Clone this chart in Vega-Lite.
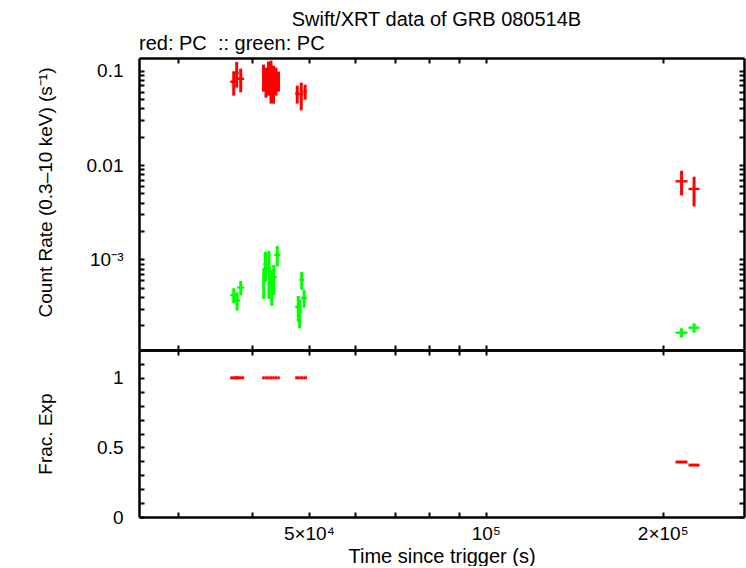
{
  "$schema": "https://vega.github.io/schema/vega-lite/v6.json",
  "autosize": {"type": "pad"},
  "padding": {"left": 35, "top": 10, "right": 3, "bottom": 0},
  "background": "white",
  "config": {
    "font": "Liberation Sans",
    "view": {"stroke": null},
    "axis": {
      "grid": false,
      "ticks": true,
      "domainColor": "black",
      "domainWidth": 2.5,
      "tickColor": "black",
      "tickWidth": 2,
      "tickSize": -5,
      "labelFont": "Liberation Sans",
      "labelFontSize": 19,
      "labelColor": "black",
      "labelOverlap": false,
      "labelBound": false,
      "labelFlush": false,
      "titleFont": "Liberation Sans",
      "titleFontSize": 19,
      "titleFontWeight": "normal",
      "titleColor": "black"
    }
  },
  "title": {
    "text": "Swift/XRT data of GRB 080514B",
    "anchor": "middle",
    "frame": "bounds",
    "dx": 46,
    "fontSize": 20,
    "fontWeight": "normal",
    "font": "Liberation Sans",
    "color": "black",
    "offset": 4
  },
  "datasets": {
    "lc": [
      {"series": "red", "t": 37250, "terr": 510, "rate": 0.0763, "rerr": 0.0220, "fexp": 1},
      {"series": "red", "t": 37685, "terr": 295, "rate": 0.0948, "rerr": 0.0288, "fexp": 1},
      {"series": "red", "t": 38283, "terr": 524, "rate": 0.0820, "rerr": 0.0231, "fexp": 1},
      {"series": "red", "t": 41854, "terr": 205, "rate": 0.0879, "rerr": 0.0280, "fexp": 1},
      {"series": "red", "t": 42267, "terr": 208, "rate": 0.0797, "rerr": 0.0280, "fexp": 1},
      {"series": "red", "t": 42683, "terr": 209, "rate": 0.0895, "rerr": 0.0352, "fexp": 1},
      {"series": "red", "t": 43103, "terr": 212, "rate": 0.0862, "rerr": 0.0415, "fexp": 1},
      {"series": "red", "t": 43528, "terr": 214, "rate": 0.0789, "rerr": 0.0342, "fexp": 1},
      {"series": "red", "t": 43956, "terr": 215, "rate": 0.0810, "rerr": 0.0267, "fexp": 1},
      {"series": "red", "t": 44389, "terr": 218, "rate": 0.0788, "rerr": 0.0189, "fexp": 1},
      {"series": "red", "t": 47774, "terr": 375, "rate": 0.0570, "rerr": 0.0123, "fexp": 1},
      {"series": "red", "t": 48530, "terr": 381, "rate": 0.0563, "rerr": 0.0183, "fexp": 1},
      {"series": "red", "t": 49268, "terr": 358, "rate": 0.0601, "rerr": 0.0109, "fexp": 1},
      {"series": "red", "t": 215345, "terr": 5053, "rate": 0.00673, "rerr": 0.00197, "fexp": 0.395},
      {"series": "red", "t": 226143, "terr": 4874, "rate": 0.00558, "rerr": 0.00194, "fexp": 0.373},
      {"series": "green", "t": 37250, "terr": 510, "rate": 0.000420, "rerr": 0.000076},
      {"series": "green", "t": 37741, "terr": 466, "rate": 0.000368, "rerr": 0.000081},
      {"series": "green", "t": 38283, "terr": 524, "rate": 0.000504, "rerr": 0.000089},
      {"series": "green", "t": 41896, "terr": 247, "rate": 0.000598, "rerr": 0.000216},
      {"series": "green", "t": 42186, "terr": 373, "rate": 0.000891, "rerr": 0.000313},
      {"series": "green", "t": 42767, "terr": 377, "rate": 0.000808, "rerr": 0.000426},
      {"series": "green", "t": 43231, "terr": 425, "rate": 0.000549, "rerr": 0.000227},
      {"series": "green", "t": 43570, "terr": 545, "rate": 0.000649, "rerr": 0.000228},
      {"series": "green", "t": 44174, "terr": 519, "rate": 0.001117, "rerr": 0.000276},
      {"series": "green", "t": 47963, "terr": 564, "rate": 0.000315, "rerr": 0.000096},
      {"series": "green", "t": 48217, "terr": 500, "rate": 0.000280, "rerr": 0.000093},
      {"series": "green", "t": 48625, "terr": 476, "rate": 0.000607, "rerr": 0.000131},
      {"series": "green", "t": 49076, "terr": 550, "rate": 0.000392, "rerr": 0.000084},
      {"series": "green", "t": 215345, "terr": 5053, "rate": 0.0001677, "rerr": 0.0000190},
      {"series": "green", "t": 226143, "terr": 4874, "rate": 0.0001894, "rerr": 0.0000217}
    ]
  },
  "spacing": 0,
  "bounds": "flush",
  "vconcat": [
    {
      "width": 605,
      "height": 292,
      "title": {
        "text": "red: PC \u00a0:: green: PC",
        "anchor": "start",
        "frame": "group",
        "fontSize": 20,
        "fontWeight": "normal",
        "font": "Liberation Sans",
        "color": "black",
        "offset": 3
      },
      "resolve": {"axis": {"x": "independent", "y": "independent"}},
      "layer": [
        {
          "data": {"name": "lc"},
          "transform": [{"filter": "datum.series === 'red'"}],
          "mark": {"type": "errorbar", "color": "#ff0000", "thickness": 3},
          "encoding": {
            "x": {
              "field": "t", "type": "quantitative",
              "scale": {"type": "log", "domain": [25700, 275000], "nice": false},
              "axis": {
                "orient": "bottom", "title": null, "labels": false,
                "values": [30000, 40000, 50000, 60000, 70000, 80000, 90000, 100000, 200000],
                "encode": {"ticks": {"update": {"y2": {"signal": "abs(log(datum.value)/LN10 - round(log(datum.value)/LN10)) < 1e-6 ? -9 : -5"}}}}
              }
            },
            "y": {
              "field": "rate", "type": "quantitative",
              "scale": {"type": "log", "domain": [0.00011, 0.136], "nice": false},
              "axis": {
                "orient": "left",
                "title": "Count Rate (0.3–10 keV) (s⁻¹)",
                "titleX": -88,
                "titleY": 134,
                "titleBaseline": "alphabetic",
                "labelPadding": 21,
                "values": [0.0002, 0.0003, 0.0004, 0.0005, 0.0006, 0.0007, 0.0008, 0.0009, 0.001, 0.002, 0.003, 0.004, 0.005, 0.006, 0.007, 0.008, 0.009, 0.01, 0.02, 0.03, 0.04, 0.05, 0.06, 0.07, 0.08, 0.09, 0.1],
                "labelExpr": "datum.value == 0.1 ? '0.1' : datum.value == 0.01 ? '0.01' : datum.value == 0.001 ? '10⁻³' : ''",
                "encode": {"ticks": {"update": {"x2": {"signal": "abs(log(datum.value)/LN10 - round(log(datum.value)/LN10)) < 1e-6 ? 9 : 5"}}}}
              }
            },
            "yError": {"field": "rerr"}
          }
        },
        {
          "data": {"name": "lc"},
          "transform": [{"filter": "datum.series === 'red'"}],
          "mark": {"type": "errorbar", "color": "#ff0000", "thickness": 2.4},
          "encoding": {
            "x": {
              "field": "t", "type": "quantitative",
              "scale": {"type": "log", "domain": [25700, 275000], "nice": false},
              "axis": {
                "orient": "top", "title": null, "labels": false,
                "values": [30000, 40000, 50000, 60000, 70000, 80000, 90000, 100000, 200000],
                "encode": {"ticks": {"update": {"y2": {"signal": "abs(log(datum.value)/LN10 - round(log(datum.value)/LN10)) < 1e-6 ? 9 : 5"}}}}
              }
            },
            "xError": {"field": "terr"},
            "y": {
              "field": "rate", "type": "quantitative",
              "scale": {"type": "log", "domain": [0.00011, 0.136], "nice": false},
              "axis": {
                "orient": "right", "title": null, "labels": false,
                "values": [0.0002, 0.0003, 0.0004, 0.0005, 0.0006, 0.0007, 0.0008, 0.0009, 0.001, 0.002, 0.003, 0.004, 0.005, 0.006, 0.007, 0.008, 0.009, 0.01, 0.02, 0.03, 0.04, 0.05, 0.06, 0.07, 0.08, 0.09, 0.1],
                "encode": {"ticks": {"update": {"x2": {"signal": "abs(log(datum.value)/LN10 - round(log(datum.value)/LN10)) < 1e-6 ? -9 : -5"}}}}
              }
            }
          }
        },
        {
          "data": {"name": "lc"},
          "transform": [{"filter": "datum.series === 'green'"}],
          "mark": {"type": "errorbar", "color": "#00ff00", "thickness": 3},
          "encoding": {
            "x": {"field": "t", "type": "quantitative", "scale": {"type": "log", "domain": [25700, 275000], "nice": false}, "axis": null},
            "y": {"field": "rate", "type": "quantitative", "scale": {"type": "log", "domain": [0.00011, 0.136], "nice": false}, "axis": null},
            "yError": {"field": "rerr"}
          }
        },
        {
          "data": {"name": "lc"},
          "transform": [{"filter": "datum.series === 'green'"}],
          "mark": {"type": "errorbar", "color": "#00ff00", "thickness": 2.4},
          "encoding": {
            "x": {"field": "t", "type": "quantitative", "scale": {"type": "log", "domain": [25700, 275000], "nice": false}, "axis": null},
            "xError": {"field": "terr"},
            "y": {"field": "rate", "type": "quantitative", "scale": {"type": "log", "domain": [0.00011, 0.136], "nice": false}, "axis": null}
          }
        }
      ]
    },
    {
      "width": 605,
      "height": 167,
      "resolve": {"axis": {"x": "independent", "y": "independent"}},
      "layer": [
        {
          "data": {"name": "lc"},
          "transform": [{"filter": "datum.series === 'red' && datum.fexp == 1"}],
          "mark": {"type": "errorbar", "color": "#ff0000", "thickness": 3},
          "encoding": {
            "x": {
              "field": "t", "type": "quantitative",
              "scale": {"type": "log", "domain": [25700, 275000], "nice": false},
              "axis": {
                "orient": "bottom",
                "title": "Time since trigger (s)",
                "titleFontSize": 20,
                "titleY": 45,
                "titleBaseline": "alphabetic",
                "labelPadding": 12,
                "values": [30000, 40000, 50000, 60000, 70000, 80000, 90000, 100000, 200000],
                "labelExpr": "datum.value == 50000 ? '5×10⁴' : datum.value == 100000 ? '10⁵' : datum.value == 200000 ? '2×10⁵' : ''",
                "encode": {"ticks": {"update": {"y2": {"signal": "abs(log(datum.value)/LN10 - round(log(datum.value)/LN10)) < 1e-6 ? -9 : -5"}}}}
              }
            },
            "xError": {"field": "terr"},
            "y": {
              "field": "fexp", "type": "quantitative",
              "scale": {"domain": [0, 1.2], "nice": false, "zero": false},
              "axis": {
                "orient": "left",
                "title": "Frac. Exp",
                "titleX": -88,
                "titleBaseline": "alphabetic",
                "labelPadding": 21,
                "values": [0, 0.1, 0.2, 0.3, 0.4, 0.5, 0.6, 0.7, 0.8, 0.9, 1, 1.1],
                "labelExpr": "datum.value == 0 ? '0' : datum.value == 0.5 ? '0.5' : datum.value == 1 ? '1' : ''",
                "encode": {"ticks": {"update": {"x2": {"signal": "abs(datum.value*2 - round(datum.value*2)) < 1e-6 ? 9 : 5"}}}}
              }
            }
          }
        },
        {
          "data": {"name": "lc"},
          "transform": [{"filter": "datum.series === 'red' && datum.fexp < 1"}],
          "mark": {"type": "errorbar", "color": "#ff0000", "thickness": 3},
          "encoding": {
            "x": {
              "field": "t", "type": "quantitative",
              "scale": {"type": "log", "domain": [25700, 275000], "nice": false},
              "axis": {
                "orient": "top", "title": null, "labels": false,
                "values": [30000, 40000, 50000, 60000, 70000, 80000, 90000, 100000, 200000],
                "encode": {"ticks": {"update": {"y2": {"signal": "abs(log(datum.value)/LN10 - round(log(datum.value)/LN10)) < 1e-6 ? 9 : 5"}}}}
              }
            },
            "xError": {"field": "terr"},
            "y": {
              "field": "fexp", "type": "quantitative",
              "scale": {"domain": [0, 1.2], "nice": false, "zero": false},
              "axis": {
                "orient": "right", "title": null, "labels": false,
                "values": [0, 0.1, 0.2, 0.3, 0.4, 0.5, 0.6, 0.7, 0.8, 0.9, 1, 1.1],
                "encode": {"ticks": {"update": {"x2": {"signal": "abs(datum.value*2 - round(datum.value*2)) < 1e-6 ? -9 : -5"}}}}
              }
            }
          }
        }
      ]
    }
  ]
}
